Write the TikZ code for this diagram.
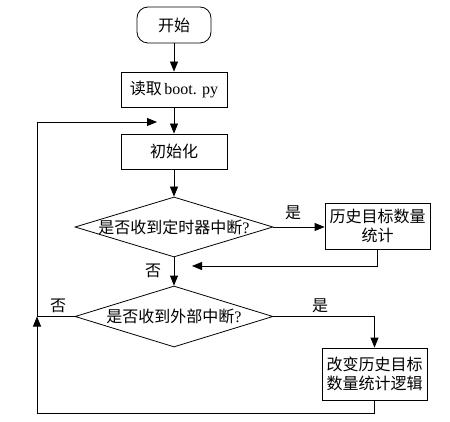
\documentclass[tikz,border=0pt]{standalone}
\usepackage{fontspec}
\setmainfont{Liberation Serif}
\newfontfamily\cjk{Noto Sans CJK SC}
\usetikzlibrary{shapes.geometric,arrows.meta}
\begin{document}
\begin{tikzpicture}[x=1pt,y=-1pt, line width=0.8pt,
 font=\fontsize{16}{19}\selectfont\cjk,
 box/.style={draw, rectangle, inner sep=0pt, align=center},
 dia/.style={draw, diamond, inner sep=0pt, aspect=3},
 arr/.style={-{Triangle[length=10pt,width=8pt]}},
 lab/.style={inner sep=0pt}]
\useasboundingbox (0,0) rectangle (450,422);
\node[box, rounded corners=11pt, minimum width=74pt, minimum height=36pt] (start) at (174,25) {开始};
\node[box, minimum width=106pt, minimum height=35pt] (read) at (174,89.5) {读取\,{\rmfamily boot. py}};
\node[box, minimum width=106pt, minimum height=35pt] (init) at (174,151.5) {初始化};
\node[dia, minimum width=198pt, minimum height=60pt] (d1) at (174,227) {\makebox[0pt]{是否收到定时器中断{\rmfamily ?}}};
\node[box, minimum width=105pt, minimum height=46pt] (hist) at (377.5,226) {历史目标数量\\统计};
\node[dia, minimum width=198pt, minimum height=61pt] (d2) at (174,316.5) {\makebox[0pt]{是否收到外部中断{\rmfamily ?}}};
\node[box, minimum width=105pt, minimum height=52pt] (box2) at (374.5,374) {改变历史目标\\数量统计逻辑};
\coordinate (m1) at (192,266);
\coordinate (loopin) at (157,122);
\coordinate (lc) at (37,316.5);
\coordinate (bl) at (37,413);
\draw[arr] (start) -- (read);
\draw[arr] (read) -- (init);
\draw[arr] (init) -- (d1);
\draw[arr] (d1.east) -- (d1.east -| hist.west);
\draw[arr] (hist.south) |- (m1);
\draw[arr] (d1) -- (d2);
\draw[arr] (d2.east) -| (box2.north);
\draw[arr] (d2.west) -- (lc) |- (loopin);
\draw[arr] (box2.south) |- (bl) -- (lc);
\node[lab] (y1) at (293,213) {是};
\node[lab] (n1) at (153,271) {否};
\node[lab] (y2) at (320,306) {是};
\node[lab] (n2) at (58,306) {否};
\end{tikzpicture}
\end{document}
